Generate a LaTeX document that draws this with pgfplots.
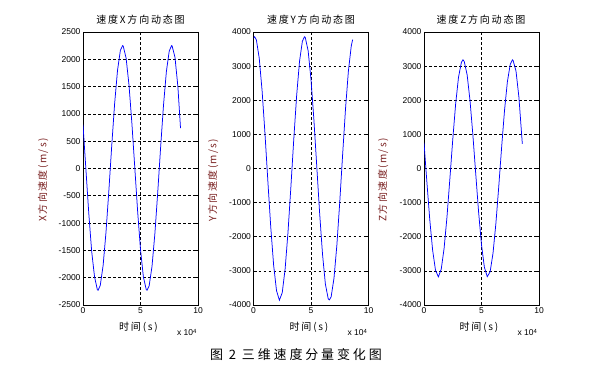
\documentclass[border=0pt]{standalone}
\usepackage{fontspec}
\setmainfont{Liberation Sans}
\newfontfamily\cjk{Noto Sans CJK SC}[LetterSpace=18]
\newfontfamily\cjklab{Noto Sans CJK SC}[LetterSpace=14]
\newfontfamily\cjkcap{Noto Sans CJK SC}[LetterSpace=22]
\usepackage{pgfplots}
\pgfplotsset{compat=1.18}
\definecolor{lab}{RGB}{120,30,30}
\pgfplotsset{
  mystyle/.style={
    width=115pt, height=273pt, scale only axis, anchor=south west,
    xmin=0, xmax=10, xtick={0,5,10},
    grid=major, grid style={black, dash pattern=on 2.5pt off 2.5pt, line width=0.6pt},
    axis line style={black, line width=0.8pt},
    tick style={black, line width=0.6pt}, major tick length=3pt, tick align=inside,
    tick label style={font=\fontsize{8.5}{10}\selectfont},
    /pgf/number format/assume math mode=true,
    /pgf/number format/1000 sep={},
    yticklabel style={xshift=1pt},
    xticklabel style={yshift=1pt},
  },
  curve/.style={blue, line width=0.75pt, mark=none},
}
\begin{document}
\begin{tikzpicture}
\useasboundingbox (0pt,0pt) rectangle (607pt,371pt);
% ---------------- X ----------------
\begin{axis}[mystyle, at={(83pt,66pt)}, ymin=-2500, ymax=2500, ytick distance=500]
\addplot[curve] coordinates {
(0,802) (0.25,-7) (0.5,-813) (0.75,-1508) (1.0,-1980) (1.25,-2221) (1.31,-2230)
(1.5,-2143) (1.75,-1774) (2.0,-1166) (2.25,-401) (2.5,421) (2.75,1188) (3.0,1794)
(3.25,2163) (3.44,2250) (3.5,2241) (3.75,2020) (4.0,1528) (4.25,832) (4.5,26)
(4.75,-782) (5.0,-1484) (5.25,-1985) (5.5,-2218) (5.57,-2230) (5.75,-2151)
(6.0,-1794) (6.25,-1194) (6.5,-433) (6.75,389) (7.0,1159) (7.25,1775) (7.5,2153)
(7.70,2250) (7.75,2244) (8.0,2034) (8.25,1500) (8.48,740)
};
\end{axis}
% ---------------- Y ----------------
\begin{axis}[mystyle, at={(253.5pt,66pt)}, ymin=-4000, ymax=4000, ytick distance=1000]
\addplot[curve] coordinates {
(0,3820) (0.1,3860) (0.25,3769) (0.5,3228) (0.75,2266) (1.0,1010) (1.25,-378)
(1.5,-1716) (1.75,-2831) (2.0,-3578) (2.25,-3859) (2.5,-3638) (2.75,-2942)
(3.0,-1865) (3.25,-544) (3.5,847) (3.75,2129) (4.0,3133) (4.25,3729) (4.43,3860)
(4.5,3840) (4.75,3451) (5.0,2612) (5.25,1435) (5.5,70) (5.75,-1304) (6.0,-2508)
(6.25,-3386) (6.5,-3823) (6.6,-3850) (6.75,-3763) (7.0,-3213) (7.25,-2244)
(7.5,-984) (7.75,405) (8.0,1741) (8.25,2850) (8.5,3589) (8.62,3775)
};
\end{axis}
% ---------------- Z ----------------
\begin{axis}[mystyle, at={(424pt,66pt)}, ymin=-4000, ymax=4000, ytick distance=1000]
\addplot[curve] coordinates {
(0,757) (0.25,-394) (0.5,-1494) (0.75,-2396) (1.0,-2982) (1.25,-3175) (1.5,-2948)
(1.75,-2333) (2.0,-1410) (2.25,-300) (2.5,848) (2.75,1885) (3.0,2674) (3.25,3109)
(3.39,3185) (3.5,3134) (3.75,2745) (4.0,1995) (4.25,981) (4.5,-163) (4.75,-1285)
(5.0,-2237) (5.25,-2894) (5.5,-3170) (5.75,-3026) (6.0,-2485) (6.25,-1614)
(6.5,-531) (6.75,623) (7.0,1694) (7.25,2541) (7.5,3053) (7.69,3185) (7.75,3163)
(8.0,2855) (8.25,2100) (8.55,720)
};
\end{axis}
% ---------------- texts ----------------
\foreach \cx/\lx/\nm in {140.5/43/X, 311/213/Y, 481/383/Z}{
  \node[font=\cjk\fontsize{10}{12}\selectfont] at (\cx pt,351.5pt) {速度\nm 方向动态图};
  \node[font=\cjklab\fontsize{10}{12}\selectfont, text=lab, rotate=90] at (\lx pt,191pt) {\nm 方向速度(m/s)};
  \node[font=\cjk\fontsize{10}{12}\selectfont] at (\cx pt-2pt,44pt) {时间(s)};
  \node[font=\fontsize{8.5}{10}\selectfont, anchor=base west] at (\cx pt+33pt,35pt) {x 10\textsuperscript{4}};
}
\node[font=\cjkcap\fontsize{13}{15}\selectfont] at (296pt,16pt) {图 2 三维速度分量变化图};
\end{tikzpicture}
\end{document}
